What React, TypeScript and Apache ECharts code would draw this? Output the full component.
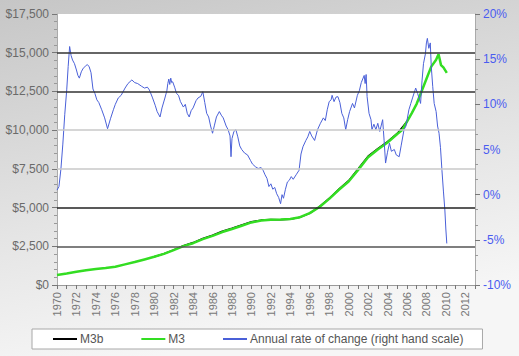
import React, { useEffect, useRef } from "react";
import * as echarts from "echarts";

const years = [1970, 1972, 1974, 1976, 1978, 1980, 1982, 1984, 1986, 1988, 1990, 1992, 1994, 1996, 1998, 2000, 2002, 2004, 2006, 2008, 2010, 2012];
const leftTicks = [0, 2500, 5000, 7500, 10000, 12500, 15000, 17500];
const rightTicks = [-10, -5, 0, 5, 10, 15, 20];
const gridValues = [2500, 5000, 7500, 10000, 12500, 15000];
const gridColors = ["#555555", "#222222", "#c8c8c8", "#c8c8c8", "#333333", "#333333"];

const m3: [number, number][] = [
  [1970, 650], [1971, 740], [1972, 850], [1973, 950], [1974, 1030], [1975, 1100], [1976, 1180],
  [1977, 1330], [1978, 1480], [1979, 1650], [1980, 1820], [1981, 2010], [1982, 2250], [1983, 2510],
  [1984, 2700], [1985, 2960], [1986, 3170], [1987, 3420], [1988, 3620], [1989, 3830], [1990, 4040],
  [1991, 4170], [1992, 4220], [1993, 4230], [1994, 4260], [1995, 4380], [1996, 4640], [1997, 5040],
  [1998, 5560], [1999, 6150], [2000, 6680], [2001, 7450], [2002, 8250], [2003, 8750], [2004, 9200],
  [2005, 9750], [2005.5, 10000], [2006, 10550], [2006.5, 11100], [2007, 11700], [2007.5, 12500],
  [2008, 13300], [2008.5, 14100], [2009, 14550], [2009.25, 14900], [2009.4, 14500], [2009.5, 14200],
  [2009.75, 14050], [2010.1, 13700],
];

const m3b: [number, number][] = [
  [1980, 1830], [1981, 2020], [1982, 2270], [1983, 2540], [1984, 2740], [1985, 3010], [1986, 3220],
  [1987, 3470], [1988, 3670], [1989, 3880], [1990, 4080], [1991, 4190], [1992, 4230], [1993, 4220],
  [1994, 4250], [1995, 4370], [1996, 4630], [1997, 5060], [1998, 5590], [1999, 6200], [2000, 6740],
  [2001, 7520], [2002, 8320], [2003, 8810], [2004, 9260], [2005, 9790], [2006, 10560],
];

const rate: [number, number][] = [
  [1970.0, 0.5], [1970.2, 0.9], [1970.4, 2.8], [1970.6, 5.6], [1970.8, 8.9], [1971.0, 11.6],
  [1971.15, 14.2], [1971.3, 16.4], [1971.45, 15.4], [1971.6, 14.9], [1971.8, 14.5], [1972.0, 13.8],
  [1972.15, 13.2], [1972.3, 12.9], [1972.5, 13.6], [1972.7, 14.0], [1972.9, 14.2], [1973.1, 14.4],
  [1973.3, 14.2], [1973.5, 13.5], [1973.7, 11.7], [1973.9, 11.2], [1974.1, 10.5], [1974.3, 10.2],
  [1974.6, 9.4], [1974.9, 8.5], [1975.2, 7.3], [1975.5, 8.4], [1975.8, 9.4], [1976.0, 10.0],
  [1976.3, 10.7], [1976.6, 11.0], [1977.0, 11.8], [1977.3, 12.3], [1977.7, 12.7], [1978.0, 12.4],
  [1978.3, 12.3], [1978.7, 12.0], [1979.0, 11.8], [1979.3, 11.9], [1979.5, 11.6], [1979.8, 10.8],
  [1980.1, 9.9], [1980.3, 9.2], [1980.6, 8.6], [1980.8, 9.6], [1981.1, 10.7], [1981.3, 11.5],
  [1981.4, 12.3], [1981.5, 12.8], [1981.6, 12.2], [1981.7, 12.9], [1981.8, 12.4], [1981.9, 12.5],
  [1982.1, 11.9], [1982.3, 11.2], [1982.5, 11.0], [1982.7, 10.3], [1983.0, 9.7], [1983.2, 10.0],
  [1983.4, 9.0], [1983.6, 8.6], [1983.8, 9.3], [1984.0, 9.6], [1984.3, 10.4], [1984.5, 10.7],
  [1984.8, 10.9], [1985.0, 11.4], [1985.2, 10.2], [1985.4, 9.0], [1985.6, 8.6], [1985.8, 7.6],
  [1986.0, 6.8], [1986.2, 7.7], [1986.4, 8.6], [1986.7, 9.2], [1986.9, 8.8], [1987.1, 8.5],
  [1987.4, 7.6], [1987.6, 7.2], [1987.8, 6.5], [1987.9, 4.2], [1988.0, 6.2], [1988.2, 7.0],
  [1988.4, 7.2], [1988.6, 6.4], [1988.8, 5.4], [1989.0, 5.0], [1989.3, 4.6], [1989.6, 4.4],
  [1989.9, 3.8], [1990.1, 3.4], [1990.4, 3.1], [1990.7, 2.9], [1991.0, 3.0], [1991.2, 2.7],
  [1991.4, 2.2], [1991.6, 1.8], [1991.8, 0.9], [1992.0, 1.2], [1992.2, 0.6], [1992.4, 0.8],
  [1992.6, 0.1], [1992.8, -0.3], [1993.0, -1.0], [1993.15, 0.0], [1993.3, -0.4], [1993.5, 0.6],
  [1993.7, 1.4], [1993.9, 1.6], [1994.1, 2.0], [1994.3, 1.7], [1994.6, 2.2], [1994.9, 2.7],
  [1995.1, 4.5], [1995.3, 5.3], [1995.6, 6.0], [1995.8, 6.4], [1996.0, 7.0], [1996.2, 6.5],
  [1996.5, 6.0], [1996.8, 7.2], [1997.1, 7.9], [1997.4, 8.5], [1997.6, 8.2], [1997.8, 9.4],
  [1998.0, 10.3], [1998.2, 10.5], [1998.3, 11.0], [1998.5, 10.3], [1998.7, 10.8], [1998.9, 10.85],
  [1999.1, 10.2], [1999.3, 9.0], [1999.5, 8.5], [1999.7, 7.2], [1999.9, 8.3], [2000.1, 9.2],
  [2000.4, 10.1], [2000.6, 9.6], [2000.9, 11.0], [2001.1, 11.5], [2001.3, 12.4], [2001.6, 13.2],
  [2001.7, 12.3], [2001.8, 13.3], [2001.9, 10.85], [2002.1, 9.0], [2002.3, 8.3], [2002.4, 7.2],
  [2002.6, 7.8], [2002.8, 7.2], [2003.0, 7.9], [2003.2, 7.0], [2003.5, 8.3], [2003.65, 6.0],
  [2003.8, 3.5], [2004.0, 4.7], [2004.2, 5.7], [2004.4, 4.8], [2004.7, 5.0], [2004.9, 4.4],
  [2005.2, 4.2], [2005.4, 5.4], [2005.7, 7.2], [2005.9, 7.6], [2006.2, 9.4], [2006.4, 10.1],
  [2006.6, 10.8], [2006.9, 11.8], [2007.1, 11.2], [2007.4, 10.1], [2007.55, 12.6], [2007.7, 14.5],
  [2007.9, 15.6], [2008.0, 16.8], [2008.1, 17.3], [2008.25, 16.2], [2008.4, 16.8], [2008.5, 14.2],
  [2008.65, 12.0], [2008.8, 10.1], [2009.0, 9.2], [2009.15, 7.6], [2009.3, 6.8], [2009.45, 5.2],
  [2009.6, 2.7], [2009.75, 0.4], [2009.9, -1.7], [2010.0, -3.8], [2010.1, -5.4],
];

const seriesNames = ["M3b", "M3", "Annual rate of change (right hand scale)"];

function money(v: number): string {
  return "$" + String(v).replace(/\B(?=(\d{3})+(?!\d))/g, ",");
}

export default function App() {
  const ref = useRef<HTMLDivElement>(null);
  useEffect(() => {
    if (!ref.current) return;
    const chart = echarts.init(ref.current, null, { renderer: "svg" });
    const font = "Liberation Sans, Arial, sans-serif";
    chart.setOption({
      animation: false,
      backgroundColor: {
        type: "linear", x: 0, y: 0, x2: 0.3, y2: 1,
        colorStops: [
          { offset: 0, color: "#c6c6c6" },
          { offset: 0.6, color: "#e4e4e4" },
          { offset: 1, color: "#f6f6f6" },
        ],
      },
      textStyle: { fontFamily: font },
      grid: {
        left: 57, right: 44, top: 14, bottom: 71,
        show: true, backgroundColor: "#ffffff", borderWidth: 0,
      },
      legend: {
        data: seriesNames,
        left: 32, top: 329,
        padding: [4, 19, 4, 20],
        itemGap: 37, itemWidth: 24, itemHeight: 12,
        backgroundColor: "#ffffff",
        borderColor: "#a8a8a8", borderWidth: 1,
        itemStyle: { opacity: 0, borderWidth: 0 },
        textStyle: { color: "#555", fontSize: 12, fontFamily: font, padding: [0, 0, 0, -2] },
      },
      xAxis: {
        type: "value",
        min: 1970, max: 2013, interval: 1,
        axisLine: { show: true, lineStyle: { color: "#9a9a9a" } },
        axisTick: { show: true, length: 4, lineStyle: { color: "#777" } },
        splitLine: { show: false },
        axisLabel: {
          rotate: 90, fontSize: 11, color: "#777", margin: 7,
          formatter: (v: number) => (years.indexOf(v) >= 0 ? String(v) : ""),
        },
      },
      yAxis: [
        {
          type: "value", min: leftTicks[0], max: leftTicks[leftTicks.length - 1], interval: 2500,
          axisLine: { show: true, lineStyle: { color: "#aaa" } },
          axisTick: { show: true, length: 5, lineStyle: { color: "#777" } },
          minorTick: { show: true, splitNumber: 5, length: 3, lineStyle: { color: "#999" } },
          splitLine: { show: false },
          axisLabel: { fontSize: 12, color: "#6a6a6a", margin: 8, formatter: (v: number) => money(v) },
        },
        {
          type: "value", min: rightTicks[0], max: rightTicks[rightTicks.length - 1], interval: 5,
          position: "right",
          axisLine: { show: true, lineStyle: { color: "#aaa" } },
          axisTick: { show: true, length: 5, lineStyle: { color: "#777" } },
          minorTick: { show: true, splitNumber: 3, length: 3, lineStyle: { color: "#999" } },
          splitLine: { show: false },
          axisLabel: { fontSize: 12, color: "#4a5cf0", margin: 8, formatter: (v: number) => v + "%" },
        },
      ],
      series: [
        {
          name: seriesNames[0], type: "line", yAxisIndex: 0, data: m3b,
          symbol: "none", showSymbol: false, z: 2,
          lineStyle: { color: "#000000", width: 1.5 }, itemStyle: { color: "#000000" },
          markLine: {
            silent: true, symbol: "none", label: { show: false },
            data: gridValues.map((v, i) => ({ yAxis: v, lineStyle: { color: gridColors[i], width: 1.5, type: "solid" } })),
          },
        },
        {
          name: seriesNames[1], type: "line", yAxisIndex: 0, data: m3,
          symbol: "none", showSymbol: false, z: 3,
          lineStyle: { color: "#33dd22", width: 2.5 }, itemStyle: { color: "#33dd22" },
        },
        {
          name: seriesNames[2], type: "line", yAxisIndex: 1, data: rate,
          symbol: "none", showSymbol: false, z: 4,
          lineStyle: { color: "#4a60d8", width: 1 }, itemStyle: { color: "#4a60d8" },
        },
      ],
    });
    return () => chart.dispose();
  }, []);
  return <div ref={ref} style={{ width: 519, height: 356, position: "absolute", left: 0, top: 0 }} />;
}
